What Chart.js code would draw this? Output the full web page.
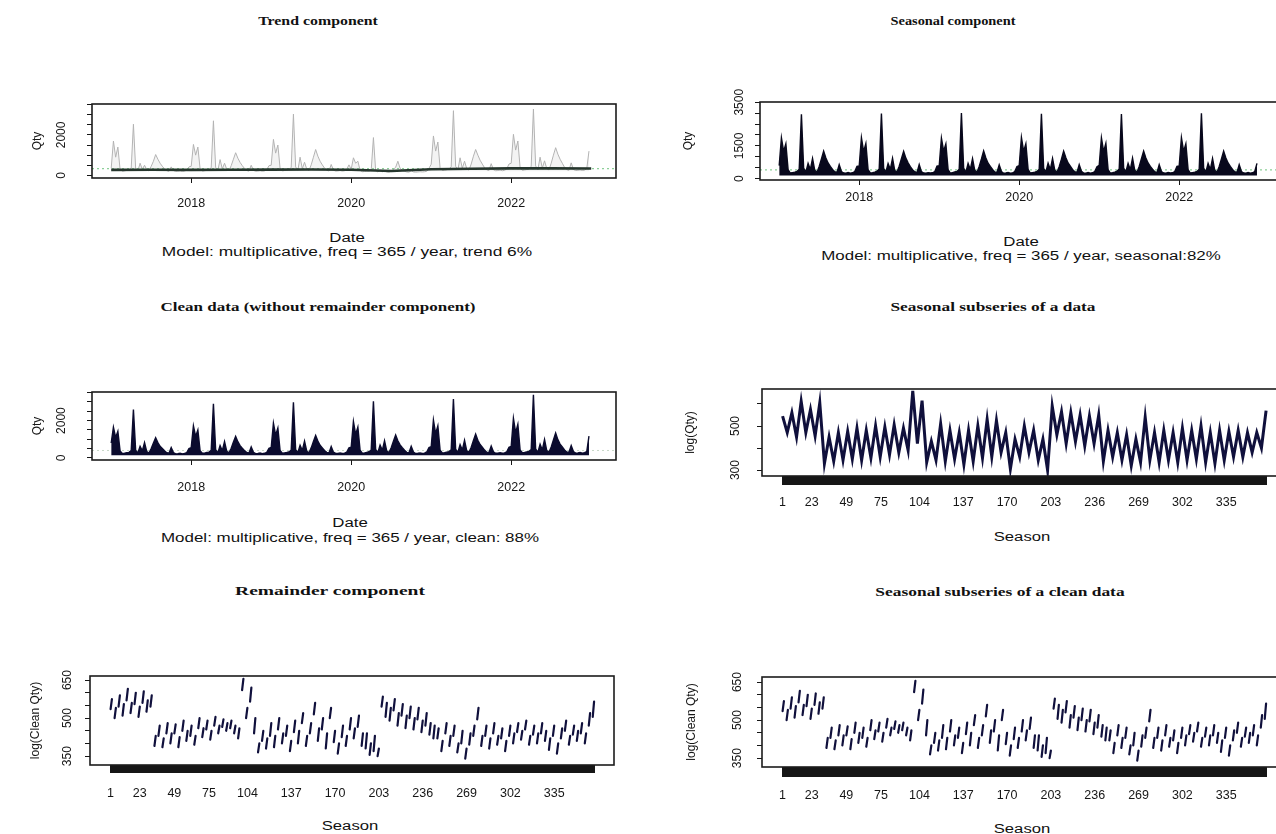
<!DOCTYPE html>
<html>
<head>
<meta charset="utf-8">
<title>Decomposition of daily Qty</title>
<script src="https://cdn.jsdelivr.net/npm/chart.js@4.4.1/dist/chart.umd.min.js"></script>
<style>
  body { margin: 0; width: 1276px; height: 834px; overflow: hidden; background: #fff; position: relative; }
  canvas { position: absolute; }
  .txt { position: absolute; white-space: nowrap; color: #111; line-height: 1; transform-origin: 50% 50%; }
  .title { font-family: "Liberation Serif", "DejaVu Serif", serif; font-weight: bold; font-size: 11.5px; }
  .note { font-family: "Liberation Sans", Arial, sans-serif; font-size: 12.5px; }
</style>
</head>
<body>
<canvas id="trend"></canvas>
<canvas id="seasonal"></canvas>
<canvas id="clean"></canvas>
<canvas id="subData"></canvas>
<canvas id="remainder"></canvas>
<canvas id="subClean"></canvas>

<script>
// ---- data ----
const years = [2017, 2018, 2019, 2020, 2021, 2022];
const stepsPerYear = 36;   // ~10 day resolution inside each year

// raw Qty (grey spikes behind the trend)
const raw2017 = [350, 1700, 900, 1400, 300, 200, 220, 250, 260, 350, 2530, 350, 220, 600, 300, 500, 280, 220, 450, 700, 1030, 800, 600, 450, 320, 230, 200, 420, 240, 190, 200, 220, 190, 210, 260, 420];
const raw2018 = [450, 1530, 1000, 1400, 330, 210, 230, 250, 280, 380, 2700, 400, 240, 780, 320, 600, 300, 230, 480, 800, 1120, 850, 640, 480, 340, 240, 210, 500, 250, 200, 210, 230, 200, 220, 280, 480];
const raw2019 = [500, 1780, 1100, 1500, 350, 220, 240, 260, 290, 400, 3030, 420, 250, 900, 330, 650, 310, 240, 520, 900, 1280, 950, 700, 520, 360, 250, 220, 540, 260, 210, 220, 240, 210, 230, 300, 520];
const raw2020 = [300, 870, 600, 700, 250, 180, 190, 200, 210, 260, 1870, 250, 170, 260, 180, 220, 170, 160, 200, 300, 400, 700, 350, 250, 200, 170, 160, 230, 170, 160, 170, 180, 170, 180, 200, 350];
const raw2021 = [550, 1950, 1200, 1650, 380, 240, 260, 280, 310, 430, 3200, 450, 270, 870, 350, 700, 330, 260, 560, 950, 1280, 1000, 750, 560, 380, 270, 240, 580, 280, 230, 240, 260, 230, 250, 320, 560];
const raw2022 = [600, 2030, 1250, 1700, 400, 250, 270, 290, 320, 450, 3280, 470, 280, 900, 360, 720, 340, 270, 600, 1000, 1370, 1050, 800, 600, 400, 280, 250, 620, 290, 240, 250, 270, 240, 260, 330, 1200];

// trend component (half-year points) and the dashed mean level
const trendDates = [2017, 2017.5, 2018, 2018.5, 2019, 2019.5, 2020, 2020.5, 2021, 2021.5, 2022, 2022.5, 2023];
const trendQty = [270, 275, 270, 280, 285, 290, 275, 215, 300, 330, 345, 345, 340];
const trendMean = 330;

// seasonal component
const seas2017 = [600, 1870, 1250, 1600, 420, 260, 280, 300, 330, 430, 2950, 480, 300, 700, 420, 930, 380, 300, 560, 900, 1260, 950, 720, 560, 420, 320, 290, 640, 330, 260, 250, 280, 250, 270, 330, 560];
const seas2018 = [580, 1880, 1240, 1610, 410, 260, 270, 300, 340, 440, 2980, 470, 300, 690, 430, 940, 370, 310, 570, 910, 1250, 940, 730, 550, 410, 320, 280, 650, 320, 260, 250, 270, 260, 270, 320, 570];
const seas2019 = [590, 1860, 1260, 1590, 420, 250, 280, 310, 330, 430, 3000, 480, 290, 700, 420, 920, 380, 300, 560, 900, 1270, 950, 710, 560, 420, 310, 290, 630, 330, 250, 260, 280, 250, 260, 330, 560];
const seas2020 = [600, 1890, 1250, 1600, 430, 260, 280, 300, 330, 430, 2970, 470, 300, 710, 420, 930, 390, 300, 550, 890, 1260, 960, 720, 570, 420, 320, 290, 640, 340, 260, 250, 280, 250, 270, 330, 550];
const seas2021 = [610, 1870, 1240, 1620, 420, 260, 270, 300, 340, 440, 2960, 480, 310, 700, 410, 940, 380, 300, 560, 910, 1260, 950, 720, 560, 430, 320, 280, 640, 330, 260, 250, 280, 260, 270, 330, 560];
const seas2022 = [590, 1880, 1250, 1600, 420, 260, 280, 300, 330, 430, 2990, 480, 300, 700, 420, 930, 380, 300, 560, 900, 1260, 950, 720, 560, 420, 320, 290, 640, 330, 260, 250, 280, 250, 270, 330, 700];
const seasonalMean = 400;

// clean data (without remainder)
const clean2017 = [800, 1650, 1100, 1430, 380, 240, 250, 280, 300, 400, 2590, 420, 260, 620, 380, 820, 340, 260, 500, 800, 1080, 820, 620, 500, 380, 280, 250, 560, 290, 220, 230, 250, 220, 240, 290, 500];
const clean2018 = [550, 1720, 1150, 1500, 390, 250, 260, 290, 310, 410, 2900, 440, 270, 660, 390, 880, 350, 270, 520, 850, 1150, 870, 660, 520, 390, 290, 260, 590, 300, 230, 240, 260, 230, 250, 300, 520];
const clean2019 = [560, 1860, 1220, 1600, 400, 250, 270, 290, 320, 420, 2980, 450, 280, 680, 400, 900, 360, 280, 540, 880, 1200, 900, 680, 540, 400, 300, 270, 610, 310, 240, 240, 270, 240, 260, 310, 540];
const clean2020 = [580, 1950, 1260, 1650, 410, 260, 270, 300, 330, 430, 3030, 460, 280, 690, 410, 920, 370, 290, 550, 900, 1230, 920, 700, 550, 410, 300, 280, 620, 320, 240, 250, 270, 240, 260, 320, 550];
const clean2021 = [600, 2030, 1300, 1720, 420, 270, 280, 310, 340, 440, 3150, 470, 290, 710, 420, 950, 380, 300, 570, 930, 1280, 950, 720, 570, 420, 310, 290, 640, 330, 250, 260, 280, 250, 270, 330, 570];
const clean2022 = [620, 2120, 1350, 1800, 430, 280, 290, 320, 350, 450, 3380, 480, 300, 730, 430, 990, 390, 310, 590, 960, 1330, 980, 740, 590, 430, 320, 300, 660, 340, 260, 270, 290, 260, 280, 340, 1170];
const cleanMean = 400;

// seasonal subseries of the data: zigzag, one value every 3.5 seasons
const subStep = 3.5;
const subQty = [
  545, 470, 560, 450, 612, 470, 575, 455, 605, 330,
  450, 340, 470, 345, 475, 350, 490, 345, 480, 355,
  500, 360, 495, 370, 505, 380, 490, 390, 660, 420,
  615, 335, 430, 345, 510, 340, 480, 350, 470, 325,
  480, 340, 500, 355, 530, 360, 525, 380, 470, 305,
  440, 360, 500, 380, 480, 345, 440, 300, 590, 460,
  565, 420, 560, 430, 550, 410, 545, 420, 550, 340,
  480, 360, 470, 345, 460, 320, 440, 335, 540, 345,
  470, 335, 480, 345, 470, 335, 490, 345, 480, 350,
  500, 335, 470, 330, 480, 345, 475, 360, 480, 360,
  470, 380, 470, 400, 570];

// clean subseries: short dashes, one every 3 seasons (low / high end)
const dashStep = 3;
const cleanDashLow = [
  535, 500, 545, 510, 570, 520, 555, 505, 560, 525, 545,
  390, 430, 385, 440, 400, 440, 385, 450, 410, 430, 395, 460, 425, 455, 415, 470, 440, 465, 450, 460, 440, 420,
  610, 500, 565, 440,
  365, 410, 380, 430, 385, 455, 400, 430, 370, 445, 400, 480, 390, 440, 515, 410, 455, 380, 500, 405, 360, 425, 390, 455, 420, 465, 390,
  380, 355, 370, 350,
  545, 505, 490, 530, 470, 510, 460, 500, 455, 495, 445, 470, 435, 420,
  420, 370, 440, 390, 430, 365, 400, 340, 395, 430, 495, 390, 430, 380, 440, 395, 420, 370, 430, 400,
  445, 415, 455, 395, 435, 400, 440, 410, 375, 430, 360, 420, 450, 395, 435, 410, 440, 400, 470, 505];
const cleanDashHigh = [
  575, 540, 590, 555, 615, 560, 600, 545, 605, 570, 590,
  430, 470, 420, 480, 440, 475, 425, 490, 450, 470, 430, 500, 460, 490, 450, 505, 470, 495, 480, 490, 470, 460,
  655, 540, 620, 500,
  400, 450, 420, 480, 430, 500, 440, 470, 410, 490, 450, 520, 430, 480, 560, 460, 500, 440, 540, 450, 400, 470, 430, 500, 460, 510, 440,
  440, 400, 430, 380,
  585, 560, 540, 575, 520, 555, 510, 545, 500, 540, 490, 520, 480, 470,
  460, 410, 480, 430, 470, 400, 450, 380, 440, 470, 540, 430, 470, 420, 480, 430, 460, 410, 470, 440,
  480, 450, 490, 430, 470, 440, 480, 450, 420, 470, 400, 460, 490, 430, 470, 450, 480, 440, 520, 565];

// axis ticks and labels
const yearTicks = [2018, 2020, 2022];
const qtyTicks = [0, 500, 1000, 1500, 2000, 2500, 3000, 3500];
const qtyLabels = [0, 2000];
const seasonalQtyLabels = [0, 1500, 3500];
const logTicks = [300, 400, 500, 600];
const logLabels = [300, 500];
const cleanLogTicks = [350, 400, 450, 500, 550, 600, 650];
const cleanLogLabels = [350, 500, 650];
const seasonLabels = [1, 23, 49, 75, 104, 137, 170, 203, 236, 269, 302, 335];
const seasonCount = 365;

// ---- helpers ----
const ink = '#161616';
const navy = '#10103c';

function yearPoints(arrs) {
  const pts = [];
  years.forEach((yr, k) => arrs[k].forEach((v, i) => pts.push({ x: yr + i / stepsPerYear, y: v })));
  return pts;
}
function flatLine(v, x0, x1) { return [{ x: x0, y: v }, { x: x1, y: v }]; }

const frame = {
  id: 'frame',
  afterDraw(chart) {
    const { ctx, chartArea: a } = chart;
    ctx.save();
    ctx.strokeStyle = '#1c1c1c';
    ctx.lineWidth = 1.6;
    ctx.strokeRect(a.left, a.top, a.right - a.left, a.bottom - a.top);
    ctx.restore();
  }
};

function panel(id, g, datasets) {
  const [cl, ct, cr, cb] = g.canvas;
  const [bl, bt, br, bb] = g.box;
  const cv = document.getElementById(id);
  cv.style.left = cl + 'px';
  cv.style.top = ct + 'px';
  cv.width = cr - cl;
  cv.height = cb - ct;
  const tickFont = { family: '"Liberation Sans", Arial, sans-serif', size: 12 };
  return new Chart(cv, {
    type: 'line',
    data: { datasets },
    options: {
      responsive: false,
      animation: false,
      devicePixelRatio: 1,
      layout: { padding: { left: 0, top: bt - ct, right: cr - br, bottom: 0 } },
      plugins: { legend: { display: false }, tooltip: { enabled: false } },
      elements: { point: { radius: 0 }, line: { tension: 0 } },
      scales: {
        x: {
          type: 'linear', min: g.xMin, max: g.xMax,
          afterBuildTicks: ax => { ax.ticks = g.xTicks.map(v => ({ value: v })); },
          afterFit: ax => { ax.height = cb - bb; ax.paddingLeft = 0; ax.paddingRight = 0; },
          border: { display: false },
          grid: { drawOnChartArea: false, tickLength: g.xTickLen, color: ink, lineWidth: g.xTickWidth || 1 },
          ticks: {
            autoSkip: false, minRotation: 0, maxRotation: 0, padding: g.xPad, color: ink,
            font: { family: tickFont.family, size: 12.5 },
            callback: v => g.xLabels.includes(v) ? String(v) : ''
          }
        },
        y: {
          type: 'linear', min: g.yMin, max: g.yMax,
          afterBuildTicks: ax => { ax.ticks = g.yTicks.map(v => ({ value: v })); },
          afterFit: ax => { ax.width = bl - cl; ax.paddingTop = 0; ax.paddingBottom = 0; },
          border: { display: false },
          grid: { drawOnChartArea: false, tickLength: 5, color: ink, lineWidth: 1 },
          ticks: {
            autoSkip: false, minRotation: 90, maxRotation: 90, crossAlign: 'center',
            padding: g.yPad, color: ink, font: tickFont,
            callback: v => g.yLabels.includes(v) ? String(v) : ''
          },
          title: {
            display: true, text: g.yTitle, color: ink,
            font: { family: tickFont.family, size: 12 },
            padding: { top: g.yTitlePad, bottom: 0 }
          }
        }
      }
    },
    plugins: [frame]
  });
}

// ---- layout (canvas and plot box in page pixels) ----
const timeRange = { xMin: 2016.76, xMax: 2023.31, xTicks: yearTicks, xLabels: yearTicks, xTickLen: 5 };
const seasonTicks = Array.from({ length: seasonCount }, (_, i) => i + 1);
const seasonRange = { xMin: -14.5, xMax: 380, xTicks: seasonTicks, xLabels: seasonLabels, xTickWidth: 2 };

panel('trend', Object.assign({
  canvas: [0, 80, 630, 222], box: [92, 104, 616, 178], xPad: 13,
  yMin: -130, yMax: 3530, yTicks: qtyTicks, yLabels: qtyLabels, yPad: 12, yTitle: 'Qty', yTitlePad: 30
}, timeRange), [
  { data: trendDates.map((d, i) => ({ x: d, y: trendQty[i] })), borderColor: '#26362d', borderWidth: 2.6 },
  { data: flatLine(trendMean, 2016.76, 2023.31), borderColor: '#8ccf98', borderWidth: 1.2, borderDash: [2, 3] },
  { data: yearPoints([raw2017, raw2018, raw2019, raw2020, raw2021, raw2022]), borderColor: '#b3b3b3', borderWidth: 1,
    backgroundColor: 'rgba(200,200,200,0.22)', fill: { value: 200 } }
]);

panel('seasonal', Object.assign({
  canvas: [660, 80, 1290, 222], box: [760, 102, 1284, 180], xPad: 5,
  yMin: -60, yMax: 3510, yTicks: qtyTicks, yLabels: seasonalQtyLabels, yPad: 2, yTitle: 'Qty', yTitlePad: 21
}, timeRange), [
  { data: yearPoints([seas2017, seas2018, seas2019, seas2020, seas2021, seas2022]), borderColor: '#08081c', borderWidth: 1.4,
    backgroundColor: '#08081c', fill: { value: 150 } },
  { data: flatLine(seasonalMean, 2016.76, 2023.31), borderColor: '#8ccf98', borderWidth: 1.2, borderDash: [2, 3] }
]);

panel('clean', Object.assign({
  canvas: [0, 370, 630, 505], box: [92, 392, 616, 460], xPad: 15,
  yMin: -110, yMax: 3530, yTicks: qtyTicks, yLabels: qtyLabels, yPad: 12, yTitle: 'Qty', yTitlePad: 30
}, timeRange), [
  { data: yearPoints([clean2017, clean2018, clean2019, clean2020, clean2021, clean2022]), borderColor: '#0b0b2e', borderWidth: 1.4,
    backgroundColor: '#0b0b2e', fill: { value: 150 } },
  { data: flatLine(cleanMean, 2016.76, 2023.31), borderColor: '#c8d8c8', borderWidth: 1, borderDash: [2, 3] }
]);

panel('subData', Object.assign({
  canvas: [660, 370, 1290, 515], box: [762, 389, 1286, 476], xTickLen: 9, xPad: 10,
  yMin: 273, yMax: 668, yTicks: logTicks, yLabels: logLabels, yPad: 11, yTitle: 'log(Qty)', yTitlePad: 23
}, seasonRange), [
  { data: subQty.map((v, i) => ({ x: 1 + subStep * i, y: v })), borderColor: navy, borderWidth: 3 }
]);

function dashPoints() {
  const pts = [];
  cleanDashLow.forEach((lo, i) => {
    const s = 1 + dashStep * i;
    pts.push({ x: s, y: lo }, { x: s + 1, y: cleanDashHigh[i] }, { x: s + 1, y: null });
  });
  return pts;
}

panel('remainder', Object.assign({
  canvas: [0, 660, 630, 805], box: [90, 676, 614, 765], xTickLen: 8, xPad: 13,
  yMin: 315, yMax: 666, yTicks: cleanLogTicks, yLabels: cleanLogLabels, yPad: 7, yTitle: 'log(Clean Qty)', yTitlePad: 28
}, seasonRange), [
  { data: dashPoints(), borderColor: navy, borderWidth: 2.2, borderCapStyle: 'round', spanGaps: false }
]);

panel('subClean', Object.assign({
  canvas: [660, 660, 1290, 808], box: [762, 677, 1286, 767], xTickLen: 10, xPad: 11,
  yMin: 315, yMax: 670, yTicks: cleanLogTicks, yLabels: cleanLogLabels, yPad: 9, yTitle: 'log(Clean Qty)', yTitlePad: 24
}, seasonRange), [
  { data: dashPoints(), borderColor: navy, borderWidth: 2.2, borderCapStyle: 'round', spanGaps: false }
]);

// ---- titles and captions (text is stretched horizontally like the source) ----
const texts = [
  { t: 'Trend component', x: 318, y: 22, w: 120, k: 'title' },
  { t: 'Seasonal component', x: 953, y: 22, w: 125, k: 'title' },
  { t: 'Clean data (without remainder component)', x: 318, y: 308, w: 315, k: 'title' },
  { t: 'Seasonal subseries of a data', x: 993, y: 308, w: 205, k: 'title' },
  { t: 'Remainder component', x: 330, y: 592, w: 190, k: 'title' },
  { t: 'Seasonal subseries of a clean data', x: 1000, y: 593, w: 250, k: 'title' },
  { t: 'Date', x: 347, y: 238, w: 35, k: 'note' },
  { t: 'Model: multiplicative, freq = 365 / year, trend 6%', x: 347, y: 252, w: 370, k: 'note' },
  { t: 'Date', x: 1021, y: 242, w: 35, k: 'note' },
  { t: 'Model: multiplicative, freq = 365 / year, seasonal:82%', x: 1021, y: 256, w: 400, k: 'note' },
  { t: 'Date', x: 350, y: 523, w: 35, k: 'note' },
  { t: 'Model: multiplicative, freq = 365 / year, clean: 88%', x: 350, y: 538, w: 378, k: 'note' },
  { t: 'Season', x: 1022, y: 537, w: 56, k: 'note' },
  { t: 'Season', x: 350, y: 826, w: 56, k: 'note' },
  { t: 'Season', x: 1022, y: 829, w: 56, k: 'note' }
];
texts.forEach(o => {
  const el = document.createElement('span');
  el.className = 'txt ' + o.k;
  el.textContent = o.t;
  el.style.left = o.x + 'px';
  el.style.top = o.y + 'px';
  document.body.appendChild(el);
  const k = o.w / el.offsetWidth;
  el.style.transform = 'translate(-50%, -50%) scaleX(' + k.toFixed(3) + ')';
});
</script>
</body>
</html>
